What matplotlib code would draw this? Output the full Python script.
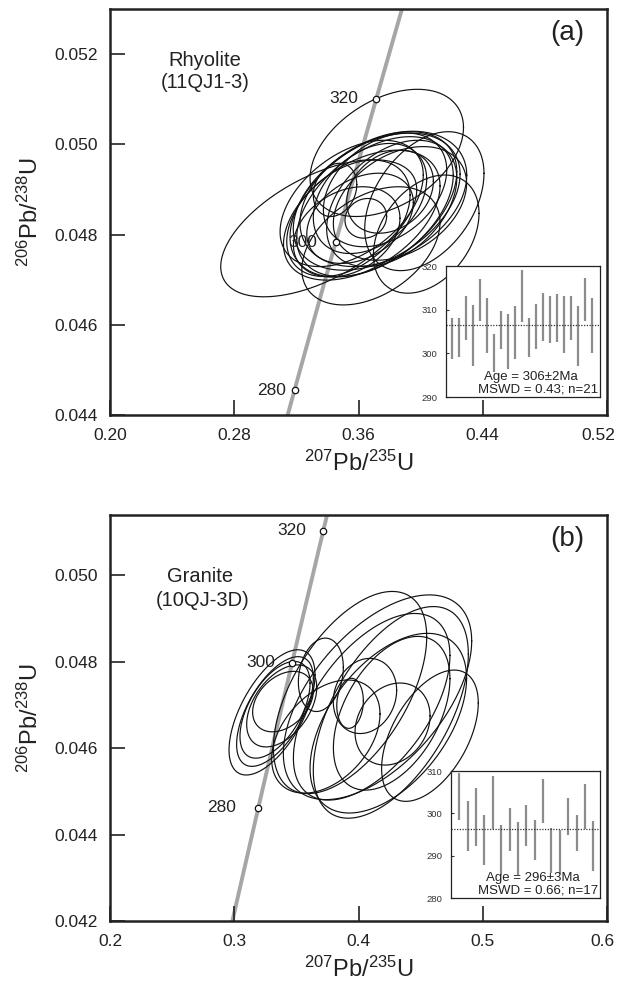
import numpy as np
import matplotlib
matplotlib.use('Agg')
import matplotlib.pyplot as plt
from matplotlib.transforms import ScaledTranslation

plt.rcParams['font.family'] = ['Liberation Sans', 'DejaVu Sans']
plt.rcParams['mathtext.fontset'] = 'custom'
plt.rcParams['mathtext.rm'] = 'Liberation Sans'
plt.rcParams['mathtext.it'] = 'Liberation Sans:italic'
plt.rcParams['mathtext.bf'] = 'Liberation Sans:bold'

# ---------------- data ----------------
L238 = 1.55125e-10   # decay constants (1/yr)
L235 = 9.8485e-10

marker_labels = ['280', '300', '320']
a_marker_ages = [281.0, 301.2, 320.7]
b_marker_ages = [281.4, 302.1, 320.9]

# panel (a): 207Pb/235U, 2s, 206Pb/238U, 2s, rho
a_x = [0.3344, 0.3782, 0.4024, 0.4036, 0.3680, 0.3449, 0.3647, 0.3556, 0.3696, 0.3717, 0.3706,
       0.3760, 0.3674, 0.3535, 0.3771, 0.3524, 0.3867, 0.3803, 0.3610, 0.3621, 0.3814]
a_sx = [0.0631, 0.0494, 0.0384, 0.0340, 0.0445, 0.0140, 0.0134, 0.0461, 0.0537, 0.0537, 0.0504,
        0.0537, 0.0365, 0.0397, 0.0397, 0.0343, 0.0429, 0.0279, 0.0343, 0.0504, 0.0419]
a_y = [0.04814, 0.04981, 0.04874, 0.04801, 0.04775, 0.04899, 0.04836, 0.04869, 0.04867, 0.04873, 0.04862,
       0.04879, 0.04880, 0.04836, 0.04899, 0.04806, 0.04869, 0.04895, 0.04836, 0.04843, 0.04869]
a_sy = [0.00152, 0.00141, 0.00154, 0.00131, 0.00131, 0.00059, 0.00044, 0.00140, 0.00161, 0.00152, 0.00155,
        0.00150, 0.00122, 0.00129, 0.00126, 0.00100, 0.00126, 0.00092, 0.00100, 0.00144, 0.00140]
a_rho = [0.56, 0.4, 0.4, 0.35, 0.4, 0.2, 0.1, 0.45, 0.45, 0.4, 0.45,
         0.35, 0.35, 0.4, 0.35, 0.3, 0.35, 0.25, 0.35, 0.45, 0.4]

# panel (b)
b_x = [0.3304, 0.3328, 0.3328, 0.3392, 0.3382, 0.3697, 0.4052, 0.3932, 0.4274, 0.4575, 0.3932,
       0.4153, 0.4260, 0.4106, 0.4240, 0.4267, 0.3737]
b_sx = [0.0346, 0.0309, 0.0282, 0.0244, 0.0282, 0.0181, 0.0255, 0.0107, 0.0302, 0.0389, 0.0617,
        0.0758, 0.0624, 0.0630, 0.0630, 0.0469, 0.0436]
b_y = [0.04683, 0.04685, 0.04689, 0.04708, 0.04698, 0.04770, 0.04721, 0.04704, 0.04656, 0.04629, 0.04729,
       0.04718, 0.04683, 0.04696, 0.04658, 0.04681, 0.04627]
b_sy = [0.00145, 0.00127, 0.00112, 0.00070, 0.00095, 0.00085, 0.00087, 0.00058, 0.00095, 0.00152, 0.00234,
        0.00237, 0.00245, 0.00216, 0.00208, 0.00178, 0.00131]
b_rho = [0.6, 0.6, 0.55, 0.35, 0.45, 0.2, 0.15, 0.1, 0.2, 0.5, 0.55,
         0.55, 0.55, 0.55, 0.5, 0.45, 0.4]

# weighted-mean insets: 206Pb/238U ages (Ma), error bar top / bottom
a_age_top = [308.2, 308.0, 313.1, 311.1, 317.1, 312.6, 304.4, 309.6, 309.0, 310.9, 319.0,
             308.0, 311.3, 313.8, 313.2, 313.6, 313.2, 313.1, 310.9, 317.2, 312.6]
a_age_bot = [298.8, 299.2, 303.1, 297.2, 307.5, 300.0, 295.7, 301.1, 296.3, 298.8, 307.2,
             299.2, 300.9, 302.8, 302.3, 302.5, 300.0, 303.0, 297.2, 307.5, 300.0]
a_mean = 306.4
b_age_top = [309.5, 302.8, 306.1, 299.6, 308.9, 297.2, 301.3, 298.0, 301.9, 298.5, 308.1,
             296.5, 296.1, 303.6, 299.7, 306.9, 298.1]
b_age_bot = [298.4, 291.2, 292.4, 287.7, 296.4, 285.5, 291.2, 285.5, 292.4, 288.9, 297.7,
             285.8, 285.6, 295.0, 291.0, 296.2, 286.3]
b_mean = 296.2

a_xticks = [0.20, 0.28, 0.36, 0.44, 0.52]
a_yticks = [0.044, 0.046, 0.048, 0.050, 0.052]
b_xticks = [0.2, 0.3, 0.4, 0.5, 0.6]
b_yticks = [0.042, 0.044, 0.046, 0.048, 0.050]

# ---------------- figure ----------------
W, H = 617, 981
fig = plt.figure(figsize=(W / 100, H / 100), dpi=100)


def px_axes(l, t, r, b):
    return fig.add_axes([l / W, 1 - b / H, (r - l) / W, (b - t) / H])


def draw_main(ax, xs, sxs, ys, sys_, rhos, mages, offsets, xlim, ylim, xticks, yticks, xfmt, tag,
              last_shift):
    t = np.linspace(200, 400, 400) * 1e6
    ax.plot(np.exp(L235 * t) - 1, np.exp(L238 * t) - 1, color='#a6a6a6', lw=2.8,
            solid_capstyle='butt', zorder=1)
    th = np.linspace(0, 2 * np.pi, 300)
    for cx, sx, cy, sy, r in zip(xs, sxs, ys, sys_, rhos):
        ex = cx + sx * np.cos(th)
        ey = cy + sy * (r * np.cos(th) + np.sqrt(1 - r * r) * np.sin(th))
        ax.plot(ex, ey, color='#111111', lw=0.85, zorder=2)
    for age, lab, off in zip(mages, marker_labels, offsets):
        tt = age * 1e6
        mx, my = np.exp(L235 * tt) - 1, np.exp(L238 * tt) - 1
        ax.plot(mx, my, 'o', ms=4.6, mfc='white', mec='#111111', mew=0.9, zorder=4)
        ax.annotate(lab, (mx, my), xytext=(off, 0), textcoords='offset points',
                    ha='right', va='center', fontsize=12.5, color='#222222', zorder=5)
    ax.set_xlim(*xlim)
    ax.set_ylim(*ylim)
    ax.set_xticks(xticks)
    ax.set_yticks(yticks)
    ax.set_xticklabels([xfmt.format(v) for v in xticks])
    ax.set_yticklabels(['{:.3f}'.format(v) for v in yticks])
    ax.tick_params(direction='in', length=11, width=1.2, labelsize=12.5, pad=9,
                   colors='#222222', top=False, right=False)
    lbl = ax.get_xticklabels()[-1]
    lbl.set_transform(lbl.get_transform() + ScaledTranslation(last_shift / 100, 0, fig.dpi_scale_trans))
    for s in ax.spines.values():
        s.set_linewidth(1.8)
        s.set_color('#222222')
    ax.set_xlabel(r'$^{207}$Pb/$^{235}$U', fontsize=17, color='#222222', labelpad=6)
    ax.set_ylabel(r'$^{206}$Pb/$^{238}$U', fontsize=17, color='#222222', labelpad=8)
    ax.text(0.955, 0.94, tag, transform=ax.transAxes, ha='right', va='center',
            fontsize=20, color='#222222')


def draw_inset(ax, tops, bots, mean, ylim, yticks, xlim, txt1, txt2):
    n = np.arange(1, len(tops) + 1)
    ax.vlines(n, bots, tops, color='#8c8c8c', lw=1.6)
    ax.axhline(mean, color='#333333', lw=0.9, ls=(0, (1, 1.2)))
    ax.set_xlim(*xlim)
    ax.set_ylim(*ylim)
    ax.set_xticks([])
    ax.set_yticks(yticks)
    ax.tick_params(direction='in', length=2.5, width=0.8, labelsize=6.8, pad=6,
                   colors='#333333')
    for s in ax.spines.values():
        s.set_linewidth(0.9)
        s.set_color('#222222')
    ax.text(0.55, 0.155, txt1, transform=ax.transAxes, ha='center', va='center',
            fontsize=9.5, color='#222222')
    ax.text(0.99, 0.06, txt2, transform=ax.transAxes, ha='right', va='center',
            fontsize=9.5, color='#222222')


ax_a = px_axes(110, 9, 607, 415)
draw_main(ax_a, a_x, a_sx, a_y, a_sy, a_rho, a_marker_ages, [-6, -13, -13],
          (0.20, 0.52), (0.044, 0.053), a_xticks, a_yticks, '{:.2f}', '(a)', -9)
fig.text(205 / W, 1 - 60 / H, 'Rhyolite', ha='center', va='center', fontsize=14.5, color='#222222')
fig.text(205 / W, 1 - 83 / H, '(11QJ1-3)', ha='center', va='center', fontsize=14.5, color='#222222')

ax_b = px_axes(110, 515, 607, 921)
draw_main(ax_b, b_x, b_sx, b_y, b_sy, b_rho, b_marker_ages, [-16, -12, -12],
          (0.2, 0.6), (0.042, 0.0514), b_xticks, b_yticks, '{:.1f}', '(b)', -5)
fig.text(200 / W, 1 - 577 / H, 'Granite', ha='center', va='center', fontsize=14.5, color='#222222')
fig.text(203 / W, 1 - 600 / H, '(10QJ-3D)', ha='center', va='center', fontsize=14.5, color='#222222')

ins_a = px_axes(446, 266, 600, 397)
draw_inset(ins_a, a_age_top, a_age_bot, a_mean, (290, 320), [290, 300, 310, 320], (0.15, 22.1),
           'Age = 306\u00b12Ma', 'MSWD = 0.43; n=21')

ins_b = px_axes(451, 771, 600, 898)
draw_inset(ins_b, b_age_top, b_age_bot, b_mean, (280, 310), [280, 290, 300, 310], (0.0, 17.8),
           'Age = 296\u00b13Ma', 'MSWD = 0.66; n=17')

fig.savefig('out.png', dpi=100, facecolor='white')
